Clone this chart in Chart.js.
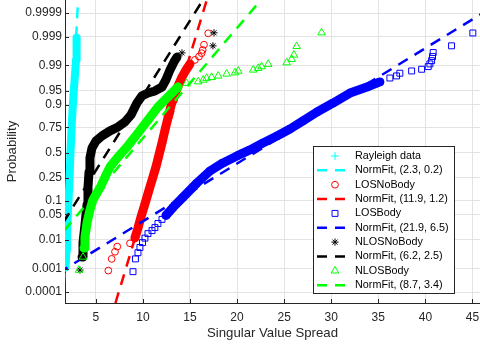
<!DOCTYPE html>
<html><head><meta charset="utf-8">
<script src="https://cdn.jsdelivr.net/npm/chart.js@4.4.1/dist/chart.umd.min.js"></script>
<style>html,body{margin:0;padding:0;background:#fff;}#wrap{width:480px;height:348px;position:relative;}</style>
</head><body><div id="wrap"><canvas id="c" width="480" height="348"></canvas></div>
<script>
// ---- axis ticks ----
const probTicks = [0.0001, 0.001, 0.01, 0.05, 0.1, 0.25, 0.5, 0.75, 0.9, 0.95, 0.99, 0.999, 0.9999];
const probTickLabels = ['0.0001','0.001','0.01','0.05','0.1','0.25','0.5','0.75','0.9','0.95','0.99','0.999','0.9999'];
const xTicks = [5, 10, 15, 20, 25, 30, 35, 40, 45];

// ---- series (sample value, plotted probability) ----
const rayleighX = [1.78, 1.89, 1.94, 2.05, 2.21, 2.31, 2.47, 2.63, 2.79, 2.90, 2.95, 2.97];
const rayleighP = [0.0011, 0.0048, 0.014, 0.063, 0.233, 0.5, 0.808, 0.938, 0.981, 0.9932, 0.9974, 0.9989];

const losNoBodyX = [6.33, 6.69, 7.04, 7.28, 8.63, 9.16, 9.48, 9.80, 10.12, 10.44, 10.75, 11.07, 11.39, 11.71, 12.03, 12.35, 12.66, 12.98, 13.30, 13.73, 14.15, 14.58, 15.00, 15.53, 15.96, 16.24, 16.35, 16.49, 16.94];
const losNoBodyP = [0.00083, 0.0023, 0.0041, 0.0061, 0.0078, 0.0115, 0.0223, 0.0432, 0.0738, 0.119, 0.180, 0.258, 0.352, 0.476, 0.602, 0.727, 0.822, 0.893, 0.935, 0.962, 0.978, 0.9863, 0.9910, 0.9933, 0.9948, 0.9960, 0.9969, 0.9980, 0.99927];

const losBodyX = [8.95, 9.21, 9.48, 9.69, 9.96, 10.22, 10.54, 10.97, 11.28, 11.60, 12.03, 12.45, 13.20, 14.26, 15.74, 17.12, 18.50, 19.99, 21.37, 22.75, 24.24, 25.62, 27.00, 28.49, 30.19, 31.99, 33.80, 35.17, 36.23, 36.94, 37.29, 38.54, 39.60, 40.30, 40.48, 40.66, 40.76, 40.83, 42.78, 45.04];
const losBodyP = [0.00075, 0.0023, 0.0038, 0.0057, 0.0082, 0.0113, 0.0154, 0.0188, 0.0228, 0.0294, 0.0375, 0.047, 0.072, 0.117, 0.209, 0.312, 0.392, 0.465, 0.529, 0.602, 0.672, 0.736, 0.801, 0.861, 0.907, 0.944, 0.960, 0.9703, 0.9767, 0.9796, 0.9829, 0.9853, 0.9869, 0.9891, 0.9910, 0.9929, 0.9948, 0.9962, 0.9978, 0.99929];

const nlosNoBodyX = [3.32, 3.54, 3.64, 3.85, 4.07, 4.17, 4.28, 4.38, 4.60, 5.02, 5.66, 6.51, 7.36, 8.10, 8.74, 9.37, 9.90, 10.54, 11.28, 12.03, 12.45, 12.88, 13.30, 13.62, 14.15, 17.44, 17.55];
const nlosNoBodyP = [0.00087, 0.0027, 0.008, 0.027, 0.082, 0.174, 0.30, 0.444, 0.55, 0.622, 0.672, 0.719, 0.753, 0.794, 0.843, 0.907, 0.935, 0.944, 0.950, 0.960, 0.974, 0.9863, 0.9922, 0.9946, 0.9961, 0.9978, 0.9993];

const nlosBodyX = [3.22, 3.64, 3.75, 3.85, 4.07, 4.38, 4.70, 5.13, 5.55, 5.98, 6.51, 7.36, 8.31, 9.48, 10.54, 11.60, 12.66, 13.73, 14.65, 15.88, 16.41, 16.77, 17.30, 18.00, 18.90, 19.78, 20.13, 21.72, 22.25, 22.61, 23.31, 25.27, 25.80, 26.04, 26.33, 28.98];
const nlosBodyP = [0.00087, 0.0027, 0.0055, 0.0122, 0.031, 0.063, 0.104, 0.142, 0.187, 0.258, 0.352, 0.454, 0.560, 0.700, 0.808, 0.888, 0.931, 0.960, 0.968, 0.9708, 0.9737, 0.9764, 0.9778, 0.9796, 0.9821, 0.9835, 0.9853, 0.9863, 0.9878, 0.9891, 0.9908, 0.9918, 0.9936, 0.9954, 0.9977, 0.99931];

// index range [first, last] of each series where the markers overlap into a solid band
const rayleighBand = [0, 11];
const losNoBodyBand = [5, 22];
const losBodyBand = [11, 27];
const nlosNoBodyBand = [1, 23];
const nlosBodyBand = [2, 17];

// normal fits (mean, std) from the legend
const seriesNames = ['Rayleigh data', 'LOSNoBody', 'LOSBody', 'NLOSNoBody', 'NLOSBody'];
const fitMu = [2.3, 11.9, 21.9, 6.2, 8.7];
const fitSigma = [0.2, 1.2, 6.5, 2.5, 3.4];

// ---- styling ----
const colors = ['#00ffff', '#ff0000', '#0000ff', '#000000', '#00ff00'];
const markers = ['cross', 'circle', 'rect', 'star', 'triangle'];
const markerRadius = [3.8, 3.4, 4.2, 3.6, 4.4];
const bandWidth = [8, 9, 9, 9, 9];
const Z_MIN = -4.01, Z_MAX = 4.07, X_MIN = 1.73, X_MAX = 45.8;

function qnorm(p){
  const a=[-3.969683028665376e+01,2.209460984245205e+02,-2.759285104469687e+02,1.383577518672690e+02,-3.066479806614716e+01,2.506628277459239e+00];
  const b=[-5.447609879822406e+01,1.615858368580409e+02,-1.556989798598866e+02,6.680131188771972e+01,-1.328068155288572e+01];
  const c=[-7.784894002430293e-03,-3.223964580411365e-01,-2.400758277161838e+00,-2.549732539343734e+00,4.374664141464968e+00,2.938163982698783e+00];
  const d=[7.784695709041462e-03,3.224671290700398e-01,2.445134137142996e+00,3.754408661907416e+00];
  const pl=0.02425, ph=1-pl; let q,r;
  if(p<pl){q=Math.sqrt(-2*Math.log(p));return (((((c[0]*q+c[1])*q+c[2])*q+c[3])*q+c[4])*q+c[5])/((((d[0]*q+d[1])*q+d[2])*q+d[3])*q+1);}
  if(p>ph){q=Math.sqrt(-2*Math.log(1-p));return -(((((c[0]*q+c[1])*q+c[2])*q+c[3])*q+c[4])*q+c[5])/((((d[0]*q+d[1])*q+d[2])*q+d[3])*q+1);}
  q=p-0.5;r=q*q;return (((((a[0]*r+a[1])*r+a[2])*r+a[3])*r+a[4])*r+a[5])*q/(((((b[0]*r+b[1])*r+b[2])*r+b[3])*r+b[4])*r+1);
}

const seriesX = [rayleighX, losNoBodyX, losBodyX, nlosNoBodyX, nlosBodyX];
const seriesP = [rayleighP, losNoBodyP, losBodyP, nlosNoBodyP, nlosBodyP];
const seriesBand = [rayleighBand, losNoBodyBand, losBodyBand, nlosNoBodyBand, nlosBodyBand];

const datasets = [];
seriesNames.forEach((name, k) => {
  const pts = seriesX[k].map((x, i) => ({x: x, y: qnorm(seriesP[k][i])}));
  const base = 100 - k * 10;
  datasets.push({
    label: name + ' band', data: pts.slice(seriesBand[k][0], seriesBand[k][1] + 1),
    showLine: true, borderColor: colors[k], borderWidth: bandWidth[k],
    borderCapStyle: 'round', borderJoinStyle: 'round', pointRadius: 0, order: base
  });
  datasets.push({
    label: name, data: pts, showLine: false, pointStyle: markers[k], pointRadius: markerRadius[k],
    pointBorderColor: colors[k], pointBackgroundColor: 'rgba(0,0,0,0)', pointBorderWidth: 1,
    order: base - 1
  });
  const mu = fitMu[k], s = fitSigma[k];
  datasets.push({
    label: 'NormFit', data: [{x: mu + s * Z_MIN, y: Z_MIN}, {x: mu + s * Z_MAX, y: Z_MAX}],
    showLine: true, borderColor: colors[k], borderWidth: 2.5, borderDash: [11, 8],
    pointRadius: 0, order: base - 2
  });
});

const FONT = "'Liberation Sans', Arial, Helvetica, sans-serif";
Chart.defaults.font.family = FONT;
const axisColor = '#262626';

const decor = {
  id: 'decor',
  afterDatasetsDraw(chart) {
    const ctx = chart.ctx, xs = chart.scales.x, ys = chart.scales.y, a = chart.chartArea;
    ctx.save();
    ctx.strokeStyle = axisColor; ctx.lineWidth = 1;
    ctx.beginPath();
    probTicks.forEach(p => { const y = Math.round(ys.getPixelForValue(qnorm(p))) + 0.5; ctx.moveTo(a.left, y); ctx.lineTo(a.left + 4, y); });
    xTicks.forEach(v => { const x = Math.round(xs.getPixelForValue(v)) + 0.5; ctx.moveTo(x, a.bottom); ctx.lineTo(x, a.bottom - 4); });
    ctx.stroke();
    ctx.restore();
  },
  afterDraw(chart) {
    const ctx = chart.ctx;
    const bx = 313, by = 146, bw = 141, bh = 147;
    ctx.save();
    ctx.fillStyle = '#fff'; ctx.fillRect(bx, by, bw, bh);
    ctx.strokeStyle = axisColor; ctx.lineWidth = 1; ctx.strokeRect(bx + 0.5, by + 0.5, bw, bh);
    ctx.font = "10.8px " + FONT; ctx.textBaseline = 'middle'; ctx.fillStyle = '#000';
    let row = 0;
    seriesNames.forEach((name, k) => {
      [0, 1].forEach(j => {
        const y = by + 10 + row * 14.35;
        ctx.save();
        if (j === 0) {
          ctx.strokeStyle = colors[k]; ctx.fillStyle = 'rgba(0,0,0,0)';
          Chart.helpers.drawPoint(ctx, {pointStyle: markers[k], radius: markerRadius[k], borderWidth: 1, rotation: 0}, 335, y);
        } else {
          ctx.strokeStyle = colors[k]; ctx.lineWidth = 2.5; ctx.setLineDash([10, 8]);
          ctx.beginPath(); ctx.moveTo(317, y); ctx.lineTo(347, y); ctx.stroke();
        }
        ctx.restore();
        const label = j === 0 ? name : 'NormFit, (' + fitMu[k].toFixed(1) + ', ' + fitSigma[k].toFixed(1) + ')';
        ctx.fillText(label, 355, y);
        row++;
      });
    });
    ctx.restore();
  }
};

new Chart(document.getElementById('c'), {
  type: 'scatter',
  data: {datasets: datasets},
  options: {
    responsive: false, animation: false, devicePixelRatio: 1,
    layout: {padding: 0, autoPadding: false},
    plugins: {legend: {display: false}, tooltip: {enabled: false}},
    scales: {
      x: {
        type: 'linear', min: X_MIN, max: X_MAX,
        afterBuildTicks: s => { s.ticks = xTicks.map(v => ({value: v})); },
        afterFit: s => { s.height = 45; s.paddingLeft = 0; s.paddingRight = 0; },
        ticks: {font: {size: 12}, color: axisColor, padding: 7, maxRotation: 0, autoSkip: false},
        grid: {color: '#e3e3e3', drawTicks: false},
        border: {color: axisColor, width: 1},
        title: {display: true, text: 'Singular Value Spread', color: axisColor, font: {size: 13.2}, padding: {top: 0, bottom: 7}}
      },
      y: {
        type: 'linear', min: Z_MIN, max: Z_MAX,
        afterBuildTicks: s => { s.ticks = probTicks.map(p => ({value: qnorm(p)})); },
        afterFit: s => { s.width = 65; s.paddingTop = 0; s.paddingBottom = 0; },
        ticks: {font: {size: 12}, color: axisColor, padding: 3, autoSkip: false, callback: (v, i) => probTickLabels[i]},
        grid: {color: '#e3e3e3', drawTicks: false},
        border: {color: axisColor, width: 1},
        title: {display: true, text: 'Probability', color: axisColor, font: {size: 13.2}, padding: {top: 4, bottom: 0}}
      }
    }
  },
  plugins: [decor]
});
</script></body></html>
